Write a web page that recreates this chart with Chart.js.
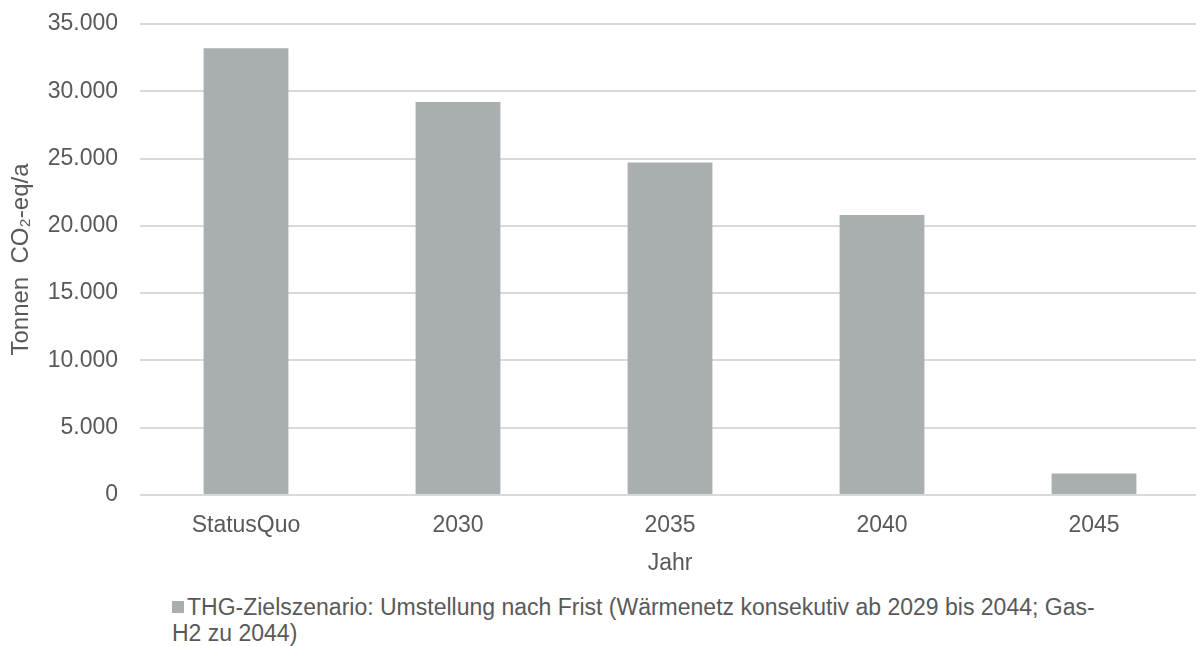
<!DOCTYPE html>
<html>
<head>
<meta charset="utf-8">
<script src="https://cdn.jsdelivr.net/npm/chart.js@4"></script>
<style>
  html, body { margin: 0; padding: 0; background: #fff; overflow: hidden; }
  #wrap { position: relative; width: 1200px; height: 586px; }
  #legend {
    position: absolute; left: 172px; top: 594px;
    font-family: "Liberation Sans", Arial, sans-serif; font-size: 23px;
    line-height: 26px; color: #595959; white-space: nowrap;
  }
  #legend .box {
    display: inline-block; width: 12px; height: 12px; background: #A9AEB1;
    margin-right: 3px; vertical-align: 2px;
  }
</style>
</head>
<body>
<div id="wrap"><canvas id="chart"></canvas></div>
<div id="legend"><span class="box"></span>THG-Zielszenario: Umstellung nach Frist (Wärmenetz konsekutiv ab 2029 bis 2044; Gas-<br>H2 zu 2044)</div>
<script>
const categories = ["StatusQuo", "2030", "2035", "2040", "2045"];
const emissions = [33200, 29200, 24700, 20800, 1600];
const yTicks = [0, 5000, 10000, 15000, 20000, 25000, 30000, 35000];

const font = "'Liberation Sans', Arial, sans-serif";
const textColor = "#595959";

function fmt(v) {
  return String(v).replace(/\B(?=(\d{3})+(?!\d))/g, ".");
}

new Chart(document.getElementById("chart"), {
  type: "bar",
  data: {
    labels: categories,
    datasets: [{
      label: "THG-Zielszenario: Umstellung nach Frist (Wärmenetz konsekutiv ab 2029 bis 2044; Gas-H2 zu 2044)",
      data: emissions,
      backgroundColor: "#A9AEB1",
      categoryPercentage: 0.8,
      barPercentage: 0.5
    }]
  },
  options: {
    responsive: true,
    maintainAspectRatio: false,
    animation: false,
    layout: { padding: { top: 24, right: 0, left: 0, bottom: 0 } },
    plugins: {
      legend: { display: false },
      tooltip: { enabled: false }
    },
    scales: {
      x: {
        grid: { display: false },
        border: { display: false },
        ticks: { color: textColor, font: { family: font, size: 23 }, padding: 9, maxRotation: 0 },
        title: { display: true, text: "Jahr", color: textColor, font: { family: font, size: 23 }, padding: { top: 0, bottom: 9 } },
        afterFit: (s) => { s.height = 91; }
      },
      y: {
        min: 0,
        max: 35000,
        afterBuildTicks: (s) => { s.ticks = yTicks.map(v => ({ value: v })); },
        grid: { color: "#D9D9D9", lineWidth: 2, drawTicks: false },
        border: { display: false },
        ticks: { color: textColor, font: { family: font, size: 23 }, padding: 22, callback: (v) => fmt(v) },
        title: { display: true, text: "Tonnen  CO₂-eq/a", color: textColor, font: { family: font, size: 24 }, padding: { top: 7, bottom: 0 } },
        afterFit: (s) => { s.width = 140; s.paddingTop = 0; s.paddingBottom = 0; }
      }
    }
  }
});
</script>
</body>
</html>
